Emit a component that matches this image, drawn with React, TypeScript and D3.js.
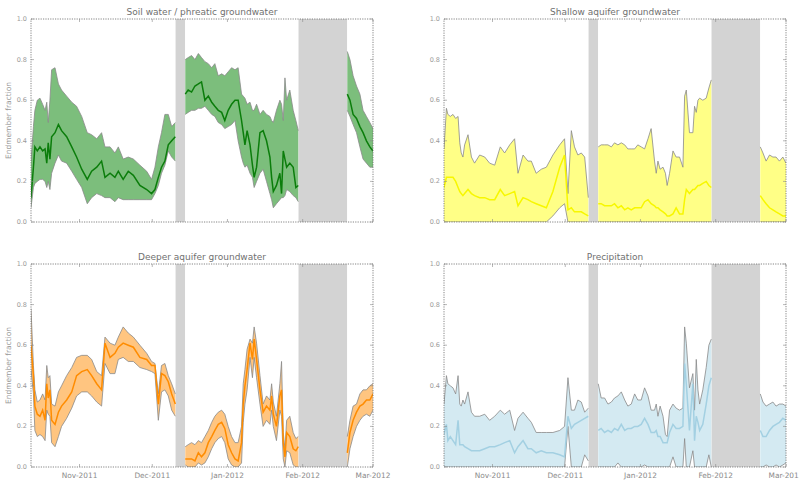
import React, { useEffect, useRef } from 'react';
import * as d3 from 'd3';

// sample times, in days after 12 Oct 2011
const startDate = new Date(2011, 9, 12);
const endDate = new Date(2012, 2, 1);
const sampleDays = [
  0, 1.0, 1.6, 2.6, 3.7, 4.8, 5.8, 6.5, 7.1, 7.8, 8.5, 9.9, 11.3, 12.6, 14.7, 16.8, 18.8, 20.9, 23.2, 25.0,
  27.1, 29.1, 30.5, 32.6, 34.6, 36.0, 38.0, 40.1, 42.2, 44.9, 47.7, 49.7, 51.1, 52.5, 53.8, 55.2, 56.6, 58.0, 59.5,
  63.6, 64.8, 66.2, 67.6, 69.0, 70.3, 71.7, 73.1, 74.5, 75.8, 77.2, 78.6, 79.9, 81.3, 82.7, 84.1, 85.4, 86.8, 87.5, 88.2,
  89.1, 90.3, 91.3, 92.0, 93.0, 94.4, 95.7, 97.1, 98.5, 99.2, 99.9, 101.2, 102.6, 103.3, 104.0, 104.7, 105.4, 106.7, 108.1, 109.2, 110.2,
  130.4, 131.5, 132.8, 134.2, 135.6, 136.9, 138.3, 139.7, 141.0,
];
// periods with no samples (grey bands), days after start
const gapBands = [[59.6, 63.5], [110.3, 130.3]];
const monthTicks = [new Date(2011, 10, 1), new Date(2011, 11, 1), new Date(2012, 0, 1), new Date(2012, 1, 1), new Date(2012, 2, 1)];
const yTicks = [0, 0.2, 0.4, 0.6, 0.8, 1.0];

const soilHi = [
  0.30, 0.47, 0.55, 0.60, 0.61, 0.58, 0.55, 0.59, 0.49, 0.60, 0.75, 0.76, 0.68, 0.65, 0.62, 0.59, 0.57, 0.52, 0.44, 0.43,
  0.41, 0.44, 0.37, 0.37, 0.34, 0.37, 0.31, 0.32, 0.31, 0.28, 0.25, 0.21, 0.27, 0.37, 0.44, 0.53, 0.53, 0.47, 0.49,
  0.80, 0.81, 0.82, 0.80, 0.83, 0.81, 0.79, 0.78, 0.76, 0.78, 0.72, 0.73, 0.72, 0.74, 0.76, 0.75, 0.76, 0.63, 0.62, 0.61,
  0.58, 0.59, 0.55, 0.55, 0.58, 0.53, 0.55, 0.53, 0.52, 0.50, 0.49, 0.55, 0.60, 0.58, 0.50, 0.71, 0.60, 0.65, 0.55, 0.50, 0.45,
  0.84, 0.80, 0.72, 0.67, 0.63, 0.55, 0.52, 0.49, 0.46,
];
const soilMid = [
  0.12, 0.27, 0.37, 0.35, 0.37, 0.35, 0.36, 0.29, 0.39, 0.31, 0.42, 0.44, 0.48, 0.45, 0.42, 0.37, 0.32, 0.26, 0.21, 0.25,
  0.27, 0.30, 0.22, 0.24, 0.22, 0.25, 0.21, 0.25, 0.23, 0.18, 0.16, 0.14, 0.16, 0.22, 0.27, 0.30, 0.38, 0.40, 0.42,
  0.63, 0.65, 0.64, 0.67, 0.68, 0.69, 0.60, 0.62, 0.59, 0.57, 0.55, 0.54, 0.50, 0.55, 0.58, 0.60, 0.60, 0.50, 0.44, 0.38,
  0.45, 0.38, 0.28, 0.22, 0.27, 0.44, 0.45, 0.40, 0.32, 0.22, 0.15, 0.18, 0.24, 0.14, 0.35, 0.31, 0.27, 0.29, 0.27, 0.17, 0.18,
  0.63, 0.60, 0.53, 0.51, 0.47, 0.44, 0.40, 0.37, 0.35,
];
const soilLo = [
  0.07, 0.17, 0.19, 0.20, 0.21, 0.21, 0.20, 0.17, 0.20, 0.16, 0.24, 0.29, 0.33, 0.30, 0.29, 0.25, 0.21, 0.17, 0.09, 0.12,
  0.14, 0.13, 0.12, 0.12, 0.10, 0.12, 0.11, 0.11, 0.11, 0.11, 0.11, 0.11, 0.14, 0.18, 0.24, 0.28, 0.35, 0.32, 0.30,
  0.53, 0.54, 0.55, 0.55, 0.56, 0.56, 0.57, 0.55, 0.53, 0.52, 0.49, 0.48, 0.46, 0.47, 0.48, 0.50, 0.40, 0.32, 0.29, 0.27,
  0.28, 0.24, 0.22, 0.17, 0.20, 0.24, 0.26, 0.20, 0.14, 0.11, 0.07, 0.09, 0.11, 0.12, 0.12, 0.13, 0.16, 0.15, 0.13, 0.12, 0.10,
  0.55, 0.52, 0.48, 0.44, 0.37, 0.31, 0.29, 0.27, 0.27,
];

const shallowHi = [
  0.36, 0.56, 0.53, 0.52, 0.53, 0.51, 0.52, 0.39, 0.34, 0.32, 0.38, 0.43, 0.32, 0.29, 0.33, 0.32, 0.29, 0.28, 0.37, 0.34,
  0.38, 0.41, 0.24, 0.33, 0.30, 0.30, 0.24, 0.26, 0.27, 0.33, 0.38, 0.41, 0.14, 0.45, 0.37, 0.33, 0.34, 0.32, 0.12,
  0.37, 0.38, 0.38, 0.38, 0.37, 0.39, 0.38, 0.39, 0.38, 0.36, 0.36, 0.36, 0.38, 0.37, 0.36, 0.41, 0.46, 0.30, 0.24, 0.30,
  0.26, 0.27, 0.24, 0.18, 0.24, 0.35, 0.32, 0.32, 0.27, 0.62, 0.65, 0.44, 0.44, 0.57, 0.54, 0.60, 0.61, 0.60, 0.61, 0.66, 0.70,
  0.37, 0.34, 0.30, 0.33, 0.32, 0.32, 0.30, 0.32, 0.29,
];
const shallowMid = [
  0.17, 0.22, 0.22, 0.22, 0.22, 0.20, 0.17, 0.15, 0.14, 0.13, 0.14, 0.16, 0.14, 0.13, 0.12, 0.12, 0.11, 0.11, 0.16, 0.13,
  0.14, 0.15, 0.08, 0.12, 0.11, 0.10, 0.09, 0.08, 0.07, 0.15, 0.27, 0.33, 0.06, 0.07, 0.05, 0.05, 0.05, 0.04, 0.03,
  0.09, 0.09, 0.08, 0.08, 0.08, 0.09, 0.07, 0.08, 0.06, 0.07, 0.06, 0.07, 0.07, 0.07, 0.10, 0.11, 0.09, 0.08, 0.07, 0.07,
  0.06, 0.05, 0.04, 0.03, 0.03, 0.04, 0.07, 0.04, 0.04, 0.11, 0.16, 0.14, 0.16, 0.16, 0.17, 0.18, 0.18, 0.19, 0.20, 0.18, 0.17,
  0.13, 0.11, 0.09, 0.07, 0.06, 0.05, 0.04, 0.03, 0.03,
];
const shallowLo = [
  0, 0, 0, 0, 0, 0, 0, 0, 0, 0, 0, 0, 0, 0, 0, 0, 0, 0, 0, 0,
  0, 0, 0, 0, 0, 0, 0, 0, 0, 0.03, 0.07, 0.09, 0, 0, 0, 0, 0, 0, 0,
  0, 0, 0, 0, 0, 0, 0, 0, 0, 0, 0, 0, 0, 0, 0, 0, 0, 0, 0, 0,
  0, 0, 0, 0, 0, 0, 0, 0, 0, 0, 0, 0, 0, 0, 0, 0, 0, 0, 0, 0, 0,
  0, 0, 0, 0, 0, 0, 0, 0, 0,
];

const deeperHi = [
  0.78, 0.50, 0.38, 0.32, 0.33, 0.36, 0.33, 0.50, 0.44, 0.45, 0.31, 0.30, 0.37, 0.40, 0.45, 0.49, 0.54, 0.55, 0.55, 0.53,
  0.47, 0.45, 0.64, 0.61, 0.60, 0.64, 0.69, 0.66, 0.64, 0.60, 0.56, 0.52, 0.51, 0.36, 0.50, 0.51, 0.45, 0.41, 0.36,
  0.10, 0.11, 0.12, 0.11, 0.13, 0.12, 0.15, 0.18, 0.22, 0.25, 0.27, 0.28, 0.26, 0.20, 0.15, 0.12, 0.12, 0.20, 0.41, 0.48,
  0.58, 0.63, 0.61, 0.69, 0.61, 0.45, 0.31, 0.35, 0.33, 0.41, 0.32, 0.25, 0.41, 0.52, 0.17, 0.09, 0.23, 0.25, 0.17, 0.14, 0.15,
  0.15, 0.23, 0.30, 0.31, 0.36, 0.38, 0.38, 0.40, 0.41,
];
const deeperMid = [
  0.60, 0.45, 0.30, 0.26, 0.25, 0.28, 0.23, 0.41, 0.34, 0.38, 0.23, 0.21, 0.27, 0.30, 0.33, 0.37, 0.45, 0.47, 0.48, 0.45,
  0.41, 0.38, 0.61, 0.54, 0.56, 0.59, 0.61, 0.60, 0.59, 0.54, 0.53, 0.50, 0.50, 0.31, 0.46, 0.45, 0.42, 0.36, 0.31,
  0.04, 0.04, 0.04, 0.03, 0.07, 0.05, 0.07, 0.12, 0.15, 0.18, 0.21, 0.22, 0.19, 0.11, 0.07, 0.04, 0.03, 0.12, 0.31, 0.40,
  0.48, 0.61, 0.53, 0.63, 0.53, 0.38, 0.27, 0.30, 0.28, 0.35, 0.26, 0.20, 0.35, 0.38, 0.12, 0.05, 0.17, 0.15, 0.09, 0.08, 0.10,
  0.07, 0.17, 0.23, 0.27, 0.30, 0.31, 0.33, 0.33, 0.36,
];
const deeperLo = [
  0.48, 0.36, 0.18, 0.15, 0.16, 0.15, 0.13, 0.28, 0.26, 0.25, 0.12, 0.10, 0.15, 0.20, 0.24, 0.29, 0.35, 0.37, 0.37, 0.35,
  0.32, 0.30, 0.51, 0.46, 0.46, 0.53, 0.54, 0.52, 0.52, 0.49, 0.48, 0.47, 0.46, 0.23, 0.37, 0.38, 0.35, 0.28, 0.25,
  0.01, 0, 0, 0, 0.02, 0.01, 0.02, 0.05, 0.09, 0.12, 0.14, 0.15, 0.12, 0.04, 0.01, 0, 0, 0.02, 0.22, 0.31,
  0.38, 0.54, 0.44, 0.54, 0.44, 0.31, 0.20, 0.23, 0.21, 0.28, 0.20, 0.13, 0.28, 0.25, 0.04, 0, 0.08, 0.07, 0.01, 0, 0,
  0, 0.09, 0.15, 0.20, 0.23, 0.25, 0.26, 0.25, 0.28,
];

const precipHi = [
  0.31, 0.45, 0.41, 0.40, 0.39, 0.36, 0.45, 0.31, 0.30, 0.33, 0.31, 0.37, 0.27, 0.25, 0.25, 0.26, 0.23, 0.25, 0.28, 0.26,
  0.28, 0.18, 0.24, 0.27, 0.24, 0.22, 0.17, 0.17, 0.17, 0.17, 0.18, 0.20, 0.44, 0.28, 0.28, 0.33, 0.32, 0.27, 0.29,
  0.41, 0.34, 0.34, 0.31, 0.32, 0.34, 0.35, 0.37, 0.33, 0.30, 0.31, 0.36, 0.33, 0.33, 0.39, 0.35, 0.28, 0.28, 0.31, 0.25,
  0.30, 0.25, 0.16, 0.15, 0.28, 0.31, 0.29, 0.28, 0.29, 0.69, 0.61, 0.39, 0.46, 0.28, 0.53, 0.38, 0.31, 0.38, 0.49, 0.60, 0.63,
  0.36, 0.32, 0.30, 0.31, 0.32, 0.30, 0.31, 0.31, 0.30,
];
const precipMid = [
  0.16, 0.21, 0.13, 0.15, 0.13, 0.11, 0.23, 0.11, 0.11, 0.11, 0.10, 0.09, 0.08, 0.08, 0.08, 0.09, 0.10, 0.10, 0.11, 0.12,
  0.13, 0.07, 0.10, 0.13, 0.09, 0.09, 0.07, 0.08, 0.07, 0.07, 0.06, 0.05, 0.25, 0.19, 0.21, 0.22, 0.23, 0.24, 0.25,
  0.18, 0.19, 0.17, 0.18, 0.17, 0.19, 0.18, 0.21, 0.18, 0.19, 0.19, 0.20, 0.20, 0.21, 0.24, 0.21, 0.17, 0.17, 0.18, 0.15,
  0.15, 0.12, 0.12, 0.12, 0.17, 0.21, 0.19, 0.19, 0.20, 0.51, 0.41, 0.18, 0.41, 0.13, 0.25, 0.22, 0.18, 0.21, 0.31, 0.40, 0.44,
  0.18, 0.15, 0.15, 0.18, 0.20, 0.21, 0.22, 0.24, 0.23,
];
const precipLo = [
  0, 0, 0, 0, 0, 0, 0, 0, 0, 0, 0, 0, 0, 0, 0, 0, 0, 0, 0, 0,
  0, 0, 0, 0, 0, 0, 0, 0, 0, 0, 0, 0, 0.20, 0, 0, 0, 0, 0.06, 0.03,
  0, 0, 0, 0, 0, 0, 0.02, 0, 0, 0, 0, 0, 0, 0, 0.01, 0, 0, 0, 0, 0,
  0, 0, 0, 0, 0, 0.05, 0, 0, 0, 0.14, 0, 0, 0.08, 0, 0, 0, 0, 0, 0, 0.06, 0,
  0, 0, 0.01, 0, 0, 0.01, 0, 0.01, 0.02,
];

const panels = [
  { title: 'Soil water / phreatic groundwater', hi: soilHi, mid: soilMid, lo: soilLo, fill: '#7cbe7c', line: '#0b7d0b', col: 0, row: 0 },
  { title: 'Shallow aquifer groundwater', hi: shallowHi, mid: shallowMid, lo: shallowLo, fill: '#ffff86', line: '#f7f700', col: 1, row: 0 },
  { title: 'Deeper aquifer groundwater', hi: deeperHi, mid: deeperMid, lo: deeperLo, fill: '#ffc580', line: '#ff8c00', col: 0, row: 1 },
  { title: 'Precipitation', hi: precipHi, mid: precipMid, lo: precipLo, fill: '#d4eaf2', line: '#a3d0e2', col: 1, row: 1 },
];

const W = 799;
const H = 483;
const colX = [31, 444];
const rowY = [19, 264];
const PW = 342;
const PH = 203;
const font = 'DejaVu Sans, sans-serif';

type Row = { date: Date; lo: number; mid: number; hi: number } | null;

export default function App() {
  const svgRef = useRef<SVGSVGElement>(null);

  useEffect(() => {
    const svg = d3.select(svgRef.current);
    svg.selectAll('*').remove();

    const toDate = (d: number) => new Date(startDate.getTime() + d * 864e5);
    const x = d3.scaleTime().domain([startDate, endDate]).range([0, PW]);
    const y = d3.scaleLinear().domain([0, 1]).range([PH, 0]);
    const fmt = d3.timeFormat('%b-%Y');

    panels.forEach((p, k) => {
      const g = svg.append('g')
        .attr('transform', `translate(${colX[p.col]},${rowY[p.row]})`);

      // break the series where it crosses a no-data band
      const rows: Row[] = [];
      sampleDays.forEach((d, i) => {
        if (i > 0 && gapBands.some(([a, b]) => sampleDays[i - 1] < a && d > b)) rows.push(null);
        rows.push({ date: toDate(d), lo: p.lo[i], mid: p.mid[i], hi: p.hi[i] });
      });

      const clipId = `clip${k}`;
      g.append('clipPath').attr('id', clipId)
        .append('rect').attr('width', PW).attr('height', PH);

      const plot = g.append('g').attr('clip-path', `url(#${clipId})`);
      plot.append('rect').attr('width', PW).attr('height', PH).attr('fill', '#fff');

      plot.selectAll('rect.gap')
        .data(gapBands)
        .join('rect')
        .attr('class', 'gap')
        .attr('x', d => x(toDate(d[0])))
        .attr('width', d => x(toDate(d[1])) - x(toDate(d[0])))
        .attr('y', 0)
        .attr('height', PH)
        .attr('fill', '#d3d3d3');

      const area = d3.area<Row>()
        .defined(d => d !== null)
        .x(d => x(d!.date))
        .y0(d => y(d!.lo))
        .y1(d => y(d!.hi));

      plot.append('path')
        .datum(rows)
        .attr('fill', p.fill)
        .attr('d', area);

      const edge = (key: 'lo' | 'mid' | 'hi') => d3.line<Row>()
        .defined(d => d !== null)
        .x(d => x(d!.date))
        .y(d => y(d![key]));

      (['hi', 'lo'] as const).forEach(key => {
        plot.append('path')
          .datum(rows)
          .attr('fill', 'none')
          .attr('stroke', '#8a8a8a')
          .attr('stroke-width', 1)
          .attr('stroke-opacity', 0.8)
          .attr('d', edge(key));
      });

      plot.append('path')
        .datum(rows)
        .attr('fill', 'none')
        .attr('stroke', p.line)
        .attr('stroke-width', 1.5)
        .attr('d', edge('mid'));

      // frame
      g.append('rect')
        .attr('width', PW).attr('height', PH)
        .attr('fill', 'none')
        .attr('stroke', '#666')
        .attr('stroke-width', 0.8)
        .attr('stroke-dasharray', '1.2,1.2');

      // inward ticks on all sides
      yTicks.forEach(t => {
        g.append('line').attr('x1', 0).attr('x2', 3).attr('y1', y(t)).attr('y2', y(t)).attr('stroke', '#888').attr('stroke-width', 0.6);
        g.append('line').attr('x1', PW - 3).attr('x2', PW).attr('y1', y(t)).attr('y2', y(t)).attr('stroke', '#888').attr('stroke-width', 0.6);
        g.append('text')
          .attr('x', -4).attr('y', y(t)).attr('dy', '0.32em')
          .attr('text-anchor', 'end')
          .attr('font-family', font).attr('font-size', 6.5)
          .attr('fill', '#9a9a9a')
          .text(t.toFixed(1));
      });
      monthTicks.forEach(t => {
        g.append('line').attr('x1', x(t)).attr('x2', x(t)).attr('y1', PH).attr('y2', PH - 3).attr('stroke', '#888').attr('stroke-width', 0.6);
        g.append('line').attr('x1', x(t)).attr('x2', x(t)).attr('y1', 0).attr('y2', 3).attr('stroke', '#888').attr('stroke-width', 0.6);
        if (p.row === 1) {
          g.append('text')
            .attr('x', x(t)).attr('y', PH + 11)
            .attr('text-anchor', 'middle')
            .attr('font-family', font).attr('font-size', 7.4)
            .attr('fill', '#8a8a8a')
            .text(fmt(t));
        }
      });

      g.append('text')
        .attr('x', PW / 2).attr('y', -4)
        .attr('text-anchor', 'middle')
        .attr('font-family', font).attr('font-size', 9)
        .attr('fill', '#707070')
        .text(p.title);

      if (p.col === 0) {
        g.append('text')
          .attr('transform', `translate(${-20},${PH / 2}) rotate(-90)`)
          .attr('text-anchor', 'middle')
          .attr('font-family', font).attr('font-size', 7.5)
          .attr('fill', '#9a9a9a')
          .text('Endmember fraction');
      }
    });
  }, []);

  return (
    <div style={{ position: 'absolute', left: 0, top: 0 }}>
      <svg ref={svgRef} width={W} height={H} style={{ display: 'block' }}></svg>
    </div>
  );
}
